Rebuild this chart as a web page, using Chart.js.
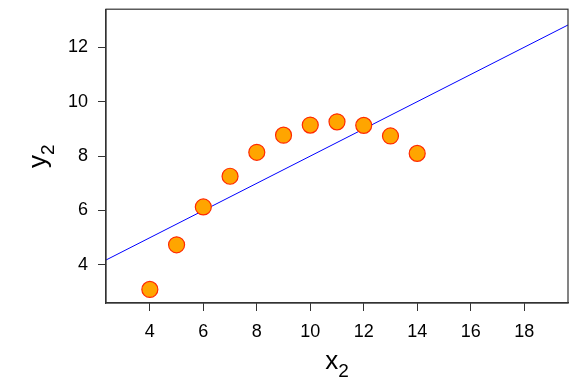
<!DOCTYPE html>
<html><head><meta charset="utf-8">
<script src="https://cdn.jsdelivr.net/npm/chart.js@4"></script>
<style>html,body{margin:0;padding:0;background:#fff}#wrap{width:578px;height:378px}</style>
</head><body><div id="wrap"><canvas id="c" width="578" height="378"></canvas></div>
<script>
const xValues = [10, 8, 13, 9, 11, 14, 6, 4, 12, 7, 5];
const yValues = [9.14, 8.14, 8.74, 8.77, 9.26, 8.10, 6.13, 3.10, 9.13, 7.26, 4.74];
const fitIntercept = 3.0;
const fitSlope = 0.5;
const xTicks = [4, 6, 8, 10, 12, 14, 16, 18];
const yTicks = [4, 6, 8, 10, 12];
const xLimits = [2.36, 19.64];
const yLimits = [2.6, 13.4];

const points = xValues.map((x, i) => ({x: x, y: yValues[i]}));
const lineEnds = [xLimits[0] - 1, xLimits[1] + 1].map(x => ({x: x, y: fitIntercept + fitSlope * x}));

const FONT = "'Liberation Sans', Arial, Helvetica, sans-serif";

const boxPlugin = {
  id: 'box',
  afterDraw(chart) {
    const ctx = chart.ctx, a = chart.chartArea;
    ctx.save();
    ctx.strokeStyle = '#333';
    ctx.lineWidth = 1.2;
    ctx.strokeRect(a.left, a.top, a.right - a.left, a.bottom - a.top);
    ctx.fillStyle = '#000';
    const cx = (a.left + a.right) / 2;
    ctx.textBaseline = 'alphabetic';
    ctx.textAlign = 'left';
    ctx.font = '26px ' + FONT;
    const w1 = ctx.measureText('x').width;
    ctx.font = '19px ' + FONT;
    const w2 = ctx.measureText('2').width;
    let sx = cx - (w1 + w2) / 2;
    ctx.font = '26px ' + FONT;
    ctx.fillText('x', sx, 369);
    ctx.font = '19px ' + FONT;
    ctx.fillText('2', sx + w1, 377);
    const cy = (a.top + a.bottom) / 2;
    ctx.translate(46, cy);
    ctx.rotate(-Math.PI / 2);
    ctx.font = '26px ' + FONT;
    const v1 = ctx.measureText('y').width;
    ctx.font = '19px ' + FONT;
    const v2 = ctx.measureText('2').width;
    let sy = -(v1 + v2) / 2;
    ctx.font = '26px ' + FONT;
    ctx.fillText('y', sy, 0);
    ctx.font = '19px ' + FONT;
    ctx.fillText('2', sy + v1, 8);
    ctx.restore();
  }
};

new Chart(document.getElementById('c'), {
  type: 'scatter',
  data: {
    datasets: [
      {
        type: 'line',
        data: lineEnds,
        borderColor: '#0000ff',
        borderWidth: 1,
        pointRadius: 0,
        fill: false,
        order: 2
      },
      {
        data: points,
        backgroundColor: '#ffa500',
        borderColor: '#ff2a00',
        borderWidth: 1.2,
        pointRadius: 8,
        pointHoverRadius: 8,
        order: 1
      }
    ]
  },
  options: {
    responsive: false,
    animation: false,
    devicePixelRatio: 1,
    layout: {padding: {left: 0, right: 10, top: 7.5, bottom: 0}},
    plugins: {legend: {display: false}, tooltip: {enabled: false}},
    scales: {
      x: {
        type: 'linear',
        min: xLimits[0], max: xLimits[1],
        afterBuildTicks(s) { s.ticks = xTicks.map(v => ({value: v})); },
        afterFit(s) { s.height = 75; s.paddingLeft = 0; s.paddingRight = 0; },
        grid: {display: true, drawOnChartArea: false, drawTicks: true, tickLength: 8, color: '#333', lineWidth: 1},
        border: {display: true, color: '#333', width: 1.2},
        ticks: {color: '#000', font: {family: FONT, size: 18}, padding: 10, maxRotation: 0, autoSkip: false}
      },
      y: {
        type: 'linear',
        min: yLimits[0], max: yLimits[1],
        afterBuildTicks(s) { s.ticks = yTicks.map(v => ({value: v})); },
        afterFit(s) { s.width = 106; s.paddingTop = 0; s.paddingBottom = 0; },
        grid: {display: true, drawOnChartArea: false, drawTicks: true, tickLength: 8, color: '#333', lineWidth: 1},
        border: {display: true, color: '#333', width: 1.2},
        ticks: {color: '#000', font: {family: FONT, size: 18}, padding: 10, autoSkip: false}
      }
    }
  },
  plugins: [boxPlugin]
});
</script>
</body></html>
